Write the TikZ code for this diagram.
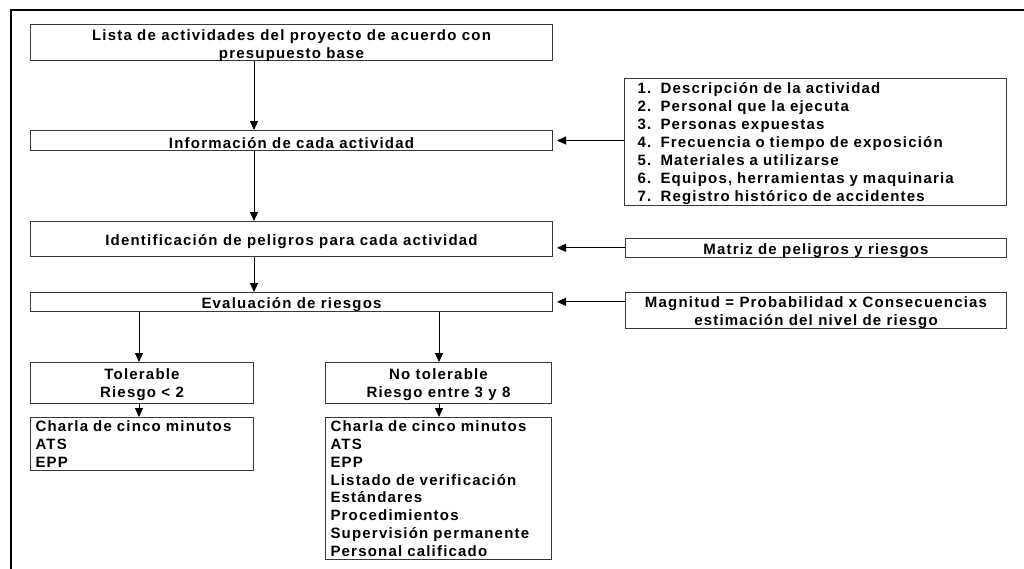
\documentclass[tikz,border=0pt]{standalone}
\usepackage{fontspec}
\setmainfont{Liberation Sans}[LetterSpace=8]
\usetikzlibrary{arrows.meta}
\newcommand\diafont{\fontsize{15}{18}\selectfont\bfseries}
\newcommand\num[1]{\makebox[23pt][l]{#1}}
\newcommand\lstrut{\rule[-3.6pt]{0pt}{17.8pt}}
\newcommand\rstrut{\rule[-3.4pt]{0pt}{18.1pt}}
\newcommand\twolines[3]{\raisebox{-#1}[\height][\depth]{\begin{tabular}{@{}c@{}}#2\\#3\end{tabular}}}
\tikzset{
  box/.style={draw=black!78, line width=1pt, inner sep=0pt, anchor=north west,
    align=center, font=\diafont, execute at begin node={\rule{0pt}{15.5pt}}},
  boxtwo/.style={draw=black!78, line width=1pt, inner sep=0pt, anchor=north west,
    font=\diafont},
  listbox/.style={draw=black!78, line width=1pt, inner ysep=0pt, inner xsep=5pt,
    anchor=north west, align=left, font=\fontsize{15}{17.8}\selectfont\bfseries},
  arr/.style={draw=black, line width=1pt, -{Triangle[length=9pt,width=8pt]}},
}
\begin{document}
\begin{tikzpicture}[x=1pt,y=-1pt]
\useasboundingbox (0,0) rectangle (1024,568);
\clip (0,0) rectangle (1024,568);
\fill[white] (0,0) rectangle (1024,568);
% outer frame
\draw[line width=2.5pt] (11,600) -- (11,10) -- (1060,10);

% main column
\node[boxtwo, minimum width=522pt, minimum height=36pt] (b1) at (30,24)
  {\twolines{3.5pt}{Lista de actividades del proyecto de acuerdo con}{presupuesto base}};
\node[box, minimum width=522pt, minimum height=20pt] (b2) at (30,130)
  {Información de cada actividad};
\node[box, minimum width=522pt, minimum height=35pt] (b3) at (30,221)
  {Identificación de peligros para cada actividad};
\node[box, minimum width=522pt, minimum height=17pt] (b4) at (30,292)
  {Evaluación de riesgos};

\node[boxtwo, minimum width=223pt, minimum height=41pt] (tol) at (30,362)
  {\twolines{2pt}{Tolerable}{Riesgo < 2}};
\node[boxtwo, minimum width=226pt, minimum height=41pt] (ntol) at (325,362)
  {\twolines{2pt}{No tolerable}{Riesgo entre 3 y 8}};

\node[listbox, text width=213pt, minimum height=53pt] (tolL) at (30,417)
  {\lstrut Charla de cinco minutos\\\lstrut ATS\\\lstrut EPP};
\node[listbox, text width=216pt, minimum height=142pt] (ntolL) at (325,417)
  {\lstrut Charla de cinco minutos\\\lstrut ATS\\\lstrut EPP\\\lstrut Listado de verificación\\\lstrut Estándares\\\lstrut Procedimientos\\\lstrut Supervisión permanente\\\lstrut Personal calificado};

% right column
\node[listbox, inner xsep=13pt, text width=356pt,
  minimum height=125pt, font=\fontsize{15}{18.1}\selectfont\bfseries] (lst) at (624,78)
  {\rstrut\num{1.}Descripción de la actividad\\
   \rstrut\num{2.}Personal que la ejecuta\\
   \rstrut\num{3.}Personas expuestas\\
   \rstrut\num{4.}Frecuencia o tiempo de exposición\\
   \rstrut\num{5.}Materiales a utilizarse\\
   \rstrut\num{6.}Equipos, herramientas y maquinaria\\
   \rstrut\num{7.}Registro histórico de accidentes};
\node[box, minimum width=381pt, minimum height=18pt] (mat) at (625,238)
  {Matriz de peligros y riesgos};
\node[boxtwo, minimum width=381pt, minimum height=35pt] (mag) at (625,292)
  {\twolines{2.2pt}{Magnitud = Probabilidad x Consecuencias}{estimación del nivel de riesgo}};

% connectors
\coordinate (cx) at (254,0);
\coordinate (lx) at (139,0);
\coordinate (rx) at (439,0);
\draw[arr] (b1.south -| cx) -- (b2.north -| cx);
\draw[arr] (b2.south -| cx) -- (b3.north -| cx);
\draw[arr] (b3.south -| cx) -- (b4.north -| cx);
\draw[arr] (b4.south -| lx) -- (tol.north -| lx);
\draw[arr] (b4.south -| rx) -- (ntol.north -| rx);
\draw[arr] (tol.south -| lx) -- (tolL.north -| lx);
\draw[arr] (ntol.south -| rx) -- (ntolL.north -| rx);

\draw[arr, shorten >=4pt] (lst.west |- b2.east) -- (b2.east);
\draw[arr, shorten >=4pt] (mat.west) -- (mat.west -| b3.east);
\draw[arr, shorten >=4pt] (mag.west |- b4.east) -- (b4.east);
\end{tikzpicture}
\end{document}
